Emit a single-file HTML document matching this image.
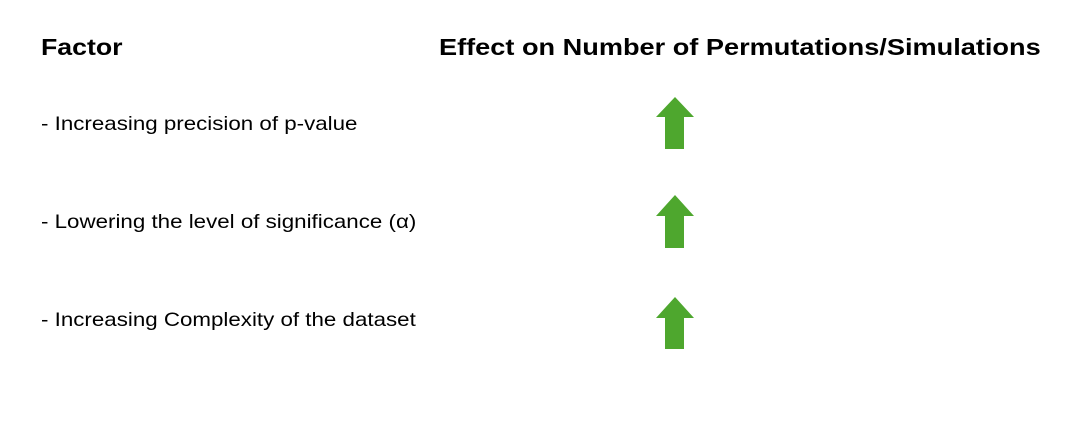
<!DOCTYPE html>
<html><head><meta charset="utf-8"><style>
body{margin:0;width:1075px;height:422px;background:#fff;font-family:"Liberation Sans",sans-serif;position:relative;overflow:hidden}
.t{position:absolute;white-space:nowrap;color:#000;transform-origin:0 50%}
.h{font-weight:bold;font-size:23px;top:34px;transform:scaleX(1.18)}
.r{font-size:19.5px;left:41px;transform:scaleX(1.145)}
svg{position:absolute;left:0;top:0}
</style></head><body>
<div class="t h" style="left:41px;transform:scaleX(1.16)">Factor</div>
<div class="t h" style="left:439px">Effect on Number of Permutations/Simulations</div>
<div class="t r" style="top:113px">- Increasing precision of p-value</div>
<div class="t r" style="top:211px">- Lowering the level of significance (α)</div>
<div class="t r" style="top:309px">- Increasing Complexity of the dataset</div>
<svg width="1075" height="422">
<polygon fill="#4ea72e" points="675,97 694,117 684,117 684,149 665,149 665,117 656,117"/>
<polygon fill="#4ea72e" points="675,195 694,216 684,216 684,248 665,248 665,216 656,216"/>
<polygon fill="#4ea72e" points="675,297 694,318 684,318 684,349 665,349 665,318 656,318"/>
</svg>
</body></html>
